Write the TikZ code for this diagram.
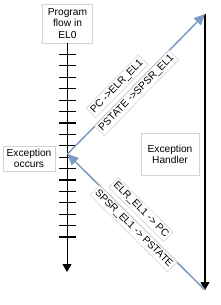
\documentclass[tikz,border=0pt]{standalone}
\usepackage{fontspec}
\setmainfont{Liberation Sans}
\usetikzlibrary{arrows.meta}
\definecolor{flowblue}{RGB}{124,154,196}
\definecolor{boxgray}{RGB}{212,212,212}
\begin{document}
\begin{tikzpicture}[x=1pt,y=-1pt,
  txt/.style={font=\fontsize{10.2}{11.6}\selectfont},
  infobox/.style={txt,draw=boxgray,fill=white,align=center,line width=0.6pt},
  tag/.style={txt,draw=boxgray,fill=white,inner sep=2.2pt,line width=0.6pt},
  tick/.style={line width=1.2pt},
  flow/.style={line width=0.8pt,-{Triangle[length=8pt,width=9pt]}},
  blueflow/.style={flowblue,line width=1.5pt,-{Triangle[length=11pt,width=10pt]}}]
\useasboundingbox (0,0) rectangle (221,305);
% left program flow
\node[infobox,minimum width=50pt,minimum height=39pt,inner sep=1pt] (prog) at (67.5,23.5) {Program\\flow in\\EL0};
\coordinate (lend) at (67,272);
\draw[flow] (prog.south -| lend) -- (lend);
\foreach \i in {0,...,16} {
  \draw[tick] (58.5,54.5+11.4*\i) -- (75.5,54.5+11.4*\i);
}
% right handler line
\coordinate (rtop) at (205,14);
\coordinate (rbot) at (205,290);
\draw[flow,line width=1.3pt] (rtop) -- (rbot);
% junction
\coordinate (J) at (67.5,154);
\draw[blueflow] (J) -- (rtop);
\draw[blueflow] (rbot) -- (J);
% boxes
\node[infobox,minimum width=52pt,minimum height=25pt,inner sep=1pt] (exc) at (29,158.3) {Exception\\occurs};
\node[infobox,minimum width=58pt,minimum height=42pt,inner sep=1pt] (hand) at (170,154.5) {Exception\\Handler};
% labels
\node[tag,rotate=45.5] (l1) at (117.1,86.4) {PC ->ELR\_EL1};
\node[tag,rotate=45.5] (l2) at (136.6,93) {PSTATE ->SPSR\_EL1};
\node[tag,rotate=-44.7] (l3) at (140.9,209.8) {ELR\_EL1 -> PC};
\node[tag,rotate=-44.7] (l4) at (133.6,228.6) {SPSR\_EL1 -> PSTATE};
\end{tikzpicture}
\end{document}
